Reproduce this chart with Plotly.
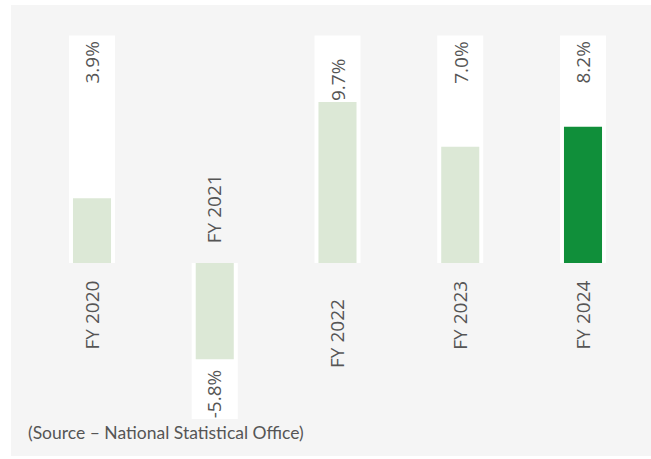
import plotly.graph_objects as go

# GDP growth by fiscal year
years = ["FY 2020", "FY 2021", "FY 2022", "FY 2023", "FY 2024"]
growth = [3.9, -5.8, 9.7, 7.0, 8.2]
value_labels = ["3.9%", "-5.8%", "9.7%", "7.0%", "8.2%"]
highlight = "FY 2024"
source_note = "(Source \u2013 National Statistical Office)"

# styling
LIGHT = "#dce8d6"
DARK = "#108f3a"
PANEL = "#f5f5f5"
TEXT = "#555555"
FONT = "Open Sans"
FSIZE = 19
CARD_UP = 13.7      # height of the white card behind positive bars
CARD_DOWN = 9.4     # depth of the white card behind negative bars
DROPPED = "FY 2022" # this column's labels sit a little lower in the original
DROP_PX = 18

x = list(range(len(years)))
cards = [CARD_UP if v > 0 else -CARD_DOWN for v in growth]
colors = [DARK if y == highlight else LIGHT for y in years]

fig = go.Figure()

fig.add_trace(go.Bar(
    x=x, y=cards, width=0.375, marker=dict(color="white", line=dict(width=0)),
    hoverinfo="skip", showlegend=False
))
fig.add_trace(go.Bar(
    x=x, y=growth, width=0.31, marker=dict(color=colors, line=dict(width=0)),
    customdata=years, hovertemplate="%{customdata}: %{y}%<extra></extra>",
    showlegend=False
))

label_font = dict(family=FONT, size=FSIZE, color=TEXT)
for i, (name, v, lab) in enumerate(zip(years, growth, value_labels)):
    drop = -DROP_PX if name == DROPPED else 0
    if v > 0:
        # value at the top of the card, year just below the zero line
        fig.add_annotation(x=i, y=CARD_UP, text=lab, textangle=-90, showarrow=False,
                           yanchor="top", yshift=-4 + drop, font=label_font)
        fig.add_annotation(x=i, y=0, text=name, textangle=-90, showarrow=False,
                           yanchor="top", yshift=-16 + drop, font=label_font)
    else:
        fig.add_annotation(x=i, y=-CARD_DOWN, text=lab, textangle=-90, showarrow=False,
                           yanchor="bottom", yshift=-1, font=label_font)
        fig.add_annotation(x=i, y=0, text=name, textangle=-90, showarrow=False,
                           yanchor="bottom", yshift=18, font=label_font)

fig.add_annotation(xref="paper", yref="paper", x=26 / 651, y=1 - 432 / 459,
                   xanchor="left", yanchor="middle", text=source_note, showarrow=False,
                   font=dict(family="Lato", size=17.5, color=TEXT))

# light grey panel behind the chart
fig.add_shape(type="rect", xref="paper", yref="paper", layer="below",
              x0=11 / 651, x1=1, y0=1 - 456 / 459, y1=1 - 5 / 459,
              fillcolor=PANEL, line=dict(width=0))

fig.update_layout(
    width=651, height=459,
    margin=dict(l=0, r=0, t=0, b=0),
    paper_bgcolor="white",
    plot_bgcolor="rgba(0,0,0,0)",
    barmode="overlay",
    xaxis=dict(range=[-0.7495, 4.554], visible=False),
    yaxis=dict(range=[-11.81, 15.84], visible=False),
)

fig.write_html("out.html", config={"displayModeBar": False},
               post_script="document.body.style.margin='0';")
